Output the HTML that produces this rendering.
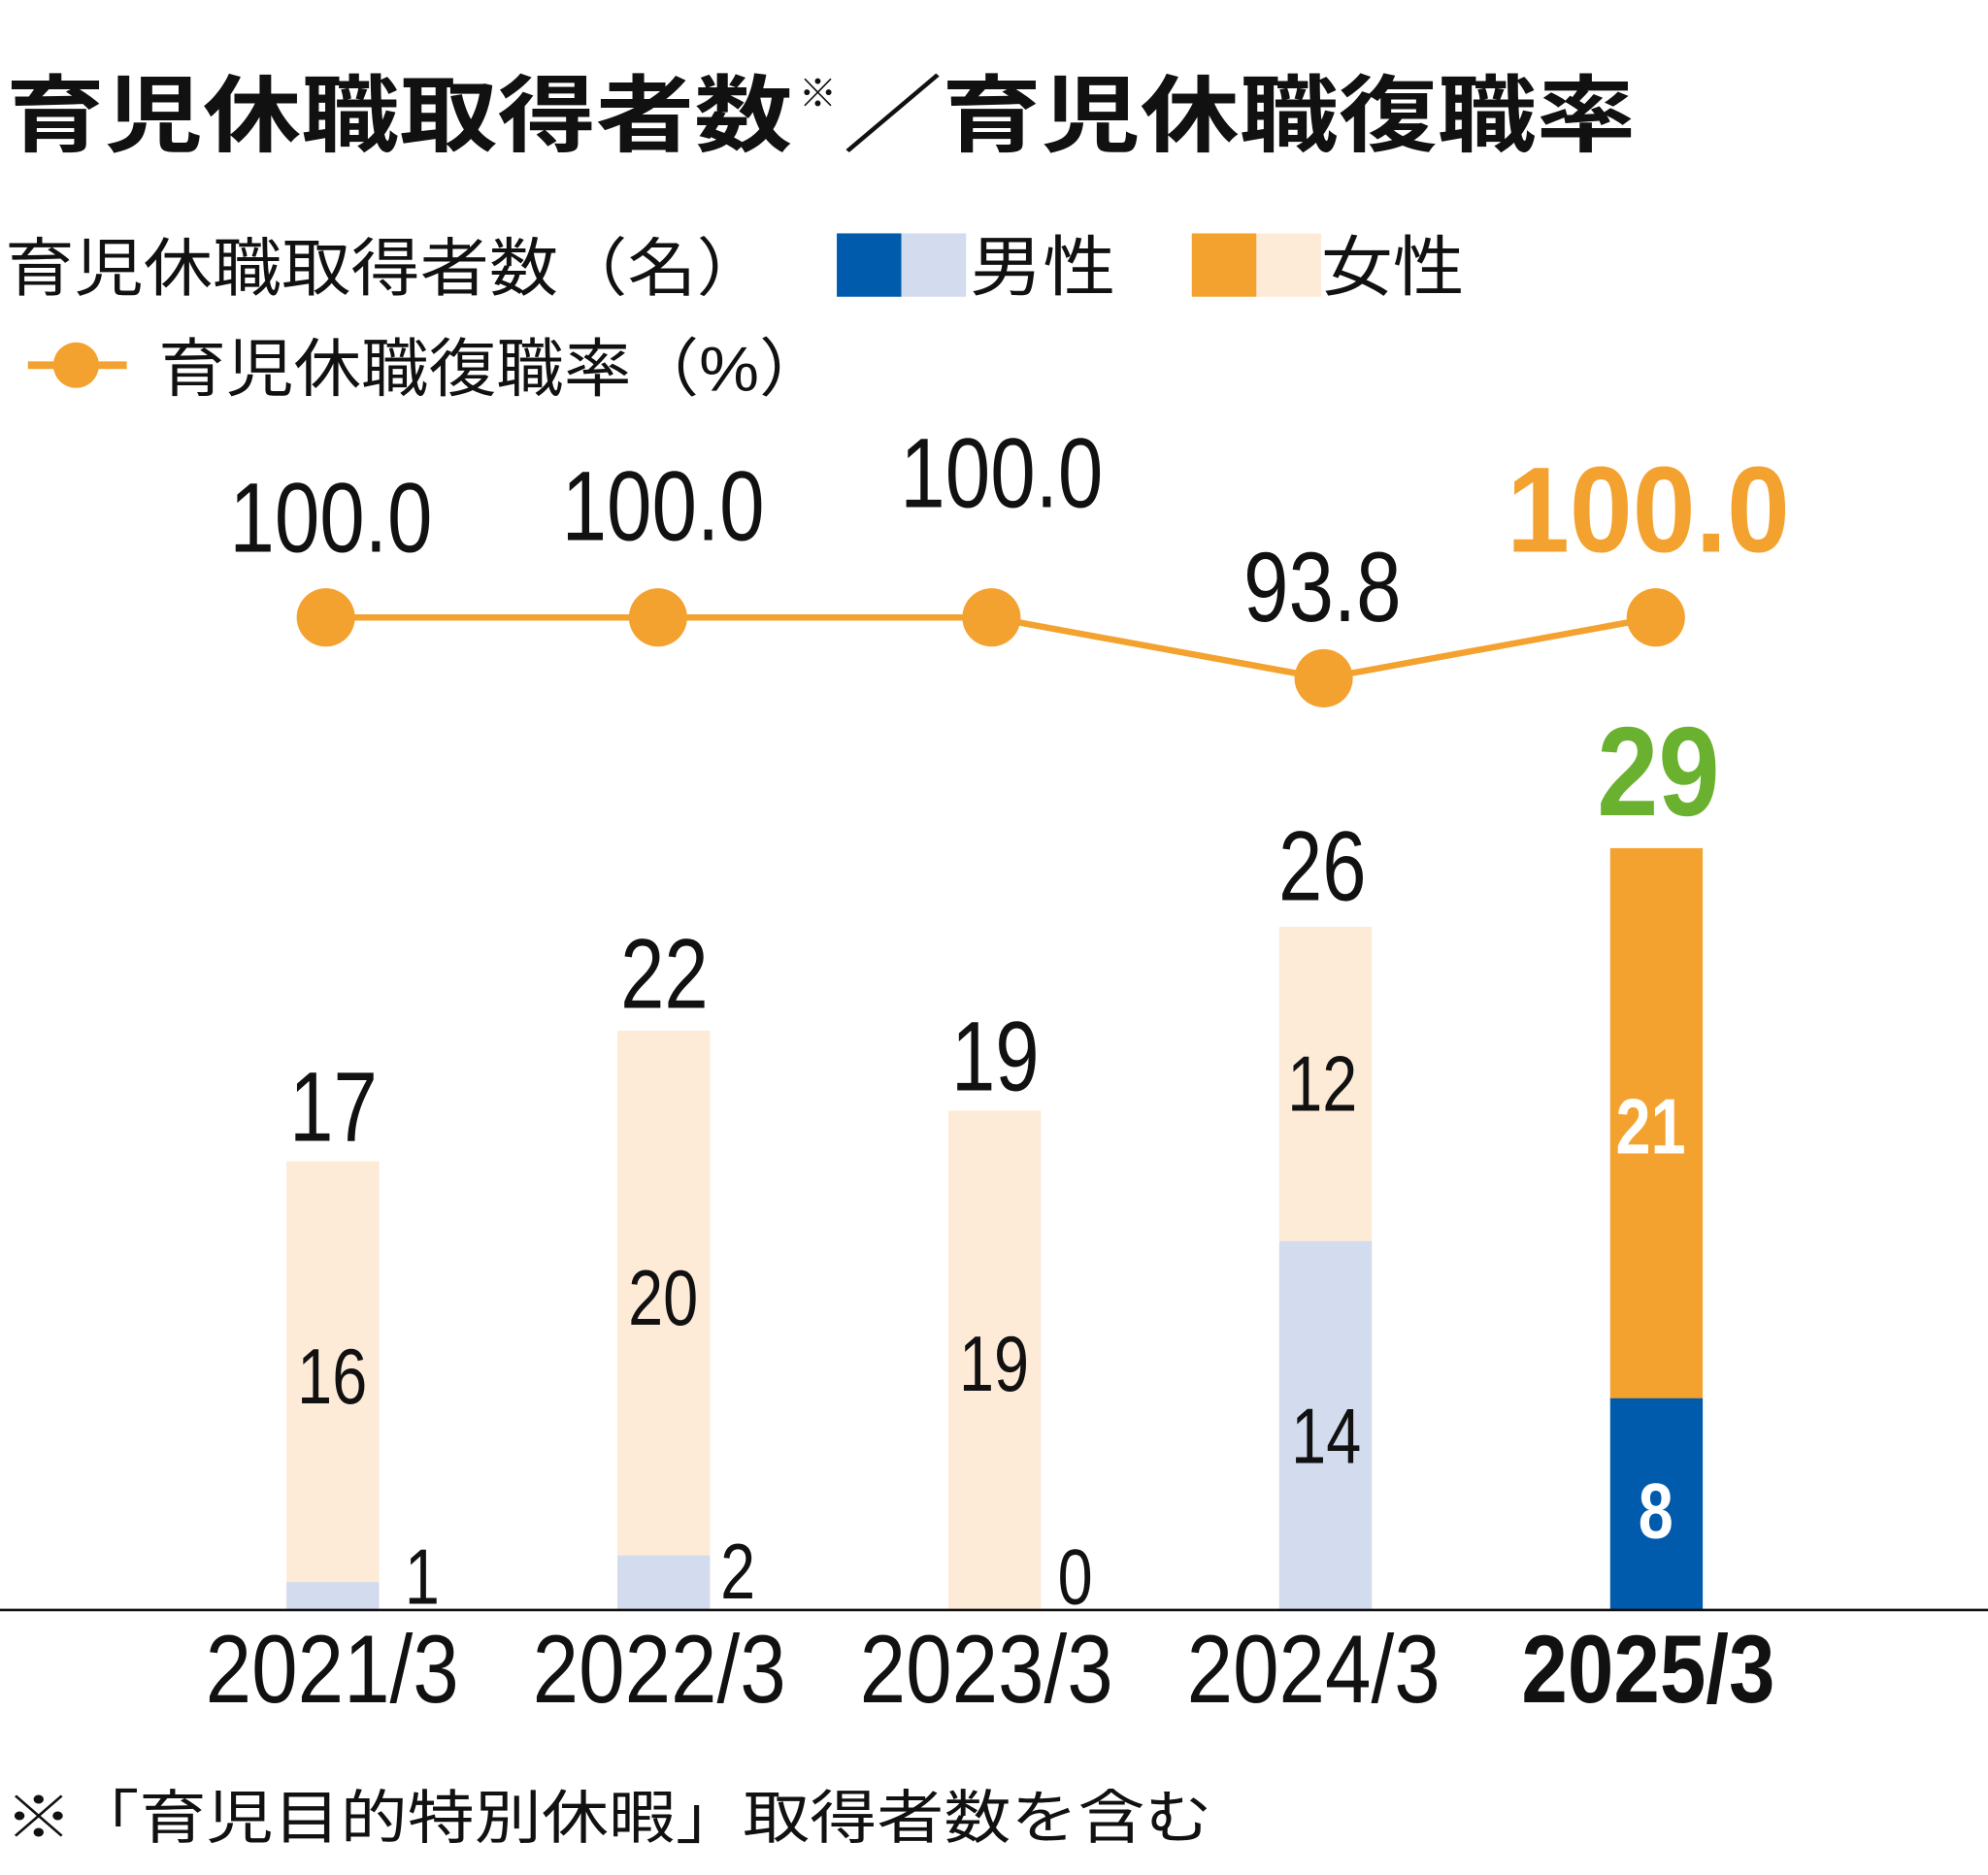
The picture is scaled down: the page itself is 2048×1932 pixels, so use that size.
<!DOCTYPE html>
<html><head><meta charset="utf-8"><style>html,body{margin:0;padding:0;background:#fff}svg{display:block}</style></head>
<body>
<svg width="2048" height="1932" viewBox="0 0 1568 1479" xmlns="http://www.w3.org/2000/svg" font-family="'Liberation Sans','Noto Sans CJK JP',sans-serif">
<rect width="1568" height="1479" fill="#fff"/>
<text x="5" y="114" font-size="66" font-weight="bold" fill="#111" textLength="620" lengthAdjust="spacingAndGlyphs">育児休職取得者数</text>
<text x="630" y="84" font-size="30" fill="#111">※</text>
<text x="665" y="114" font-size="66" font-weight="bold" fill="#111" textLength="625" lengthAdjust="spacingAndGlyphs">／育児休職復職率</text>
<text x="4" y="229" font-size="50" fill="#111" textLength="600" lengthAdjust="spacingAndGlyphs">育児休職取得者数（名）</text>
<rect x="660" y="184" width="51" height="50" fill="#005bac"/><rect x="711" y="184" width="51" height="50" fill="#d3dbee"/>
<text x="765" y="229" font-size="52" fill="#111" textLength="115" lengthAdjust="spacingAndGlyphs">男性</text>
<rect x="940" y="184" width="51" height="50" fill="#f4a22f"/><rect x="991" y="184" width="51" height="50" fill="#fdebd7"/>
<text x="1042" y="229" font-size="52" fill="#111" textLength="113" lengthAdjust="spacingAndGlyphs">女性</text>
<line x1="22" y1="288" x2="100" y2="288" stroke="#f4a22f" stroke-width="6"/><circle cx="60" cy="288" r="18" fill="#f4a22f"/>
<text x="125" y="308" font-size="50" fill="#111" textLength="527" lengthAdjust="spacingAndGlyphs">育児休職復職率（%）</text>

<g fill="#fdebd7">
<rect x="226" y="916" width="73" height="354"/><rect x="487" y="813" width="73" height="457"/><rect x="748" y="876" width="73" height="394"/><rect x="1009" y="731" width="73" height="539"/>
</g>
<g fill="#d3dbee"><rect x="226" y="1248" width="73" height="22"/><rect x="487" y="1227" width="73" height="43"/><rect x="1009" y="979" width="73" height="291"/></g>
<rect x="1270" y="669" width="73" height="435" fill="#f4a22f"/><rect x="1270" y="1103" width="73" height="167" fill="#005bac"/>
<line x1="0" y1="1270" x2="1568" y2="1270" stroke="#111" stroke-width="2"/>

<polyline points="257,487 519,487 782,487 1044,535 1306,487" fill="none" stroke="#f4a22f" stroke-width="5"/>
<g fill="#f4a22f"><circle cx="257" cy="487" r="23"/><circle cx="519" cy="487" r="23"/><circle cx="782" cy="487" r="23"/><circle cx="1044" cy="535" r="23"/><circle cx="1306" cy="487" r="23"/></g>

<g fill="#111" text-anchor="middle" font-size="78">
<text transform="translate(261,435) scale(0.82,1)">100.0</text>
<text transform="translate(523,426) scale(0.82,1)">100.0</text>
<text transform="translate(790,400) scale(0.82,1)">100.0</text>
<text transform="translate(1043,490) scale(0.82,1)">93.8</text>
<text transform="translate(263,900) scale(0.8,1)">17</text>
<text transform="translate(524,795) scale(0.8,1)">22</text>
<text transform="translate(785,860) scale(0.8,1)">19</text>
<text transform="translate(1043,710) scale(0.8,1)">26</text>
</g>
<text transform="translate(1300,435) scale(0.93,1)" text-anchor="middle" font-size="96" font-weight="bold" fill="#f4a22f">100.0</text>
<text transform="translate(1308,643) scale(0.87,1)" text-anchor="middle" font-size="100" font-weight="bold" fill="#6ab12f">29</text>

<g fill="#111" text-anchor="middle" font-size="62">
<text transform="translate(262,1107) scale(0.8,1)">16</text>
<text transform="translate(523,1045) scale(0.8,1)">20</text>
<text transform="translate(784,1097) scale(0.8,1)">19</text>
<text transform="translate(1043,876) scale(0.8,1)">12</text>
<text transform="translate(1046,1154) scale(0.8,1)">14</text>
<text transform="translate(333,1265) scale(0.8,1)">1</text>
<text transform="translate(582,1261) scale(0.8,1)">2</text>
<text transform="translate(848,1265) scale(0.8,1)">0</text>
</g>
<g fill="#fff" text-anchor="middle" font-size="62" font-weight="bold">
<text transform="translate(1302,910) scale(0.8,1)">21</text>
<text transform="translate(1306,1213) scale(0.8,1)">8</text>
</g>

<g fill="#111" text-anchor="middle" font-size="76">
<text transform="translate(262,1343) scale(0.86,1)">2021/3</text>
<text transform="translate(520,1343) scale(0.86,1)">2022/3</text>
<text transform="translate(778,1343) scale(0.86,1)">2023/3</text>
<text transform="translate(1036,1343) scale(0.86,1)">2024/3</text>
<text transform="translate(1300,1343) scale(0.86,1)" font-weight="bold">2025/3</text>
</g>
<text x="4" y="1450" font-size="46" fill="#111" textLength="952" lengthAdjust="spacingAndGlyphs">※「育児目的特別休暇」取得者数を含む</text>
</svg>
</body></html>
